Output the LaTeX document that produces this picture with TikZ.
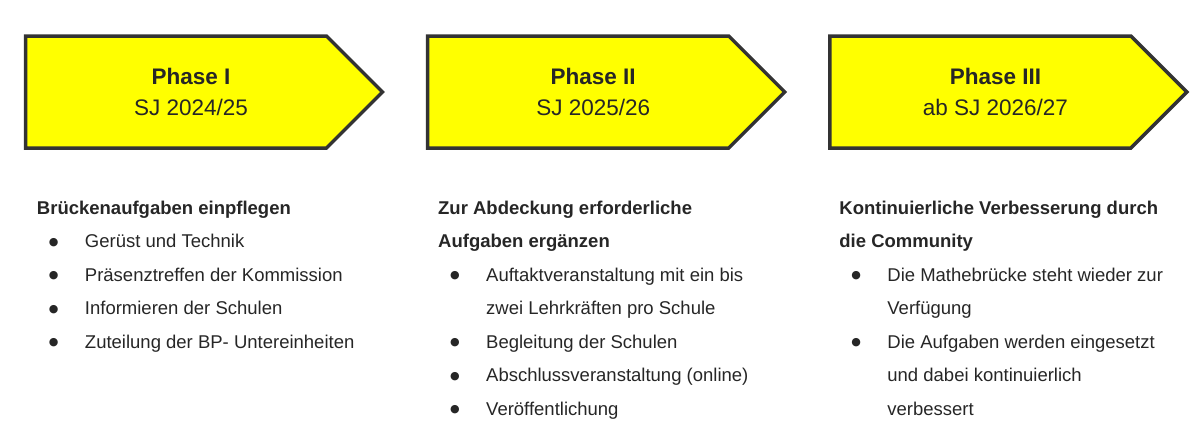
\documentclass[tikz,border=0pt]{standalone}
\usepackage{fontspec}
\setmainfont{Liberation Sans}
\newfontfamily\bulletfont{DejaVu Sans}
\usetikzlibrary{positioning,shapes.symbols}
\definecolor{phaseyellow}{HTML}{FFFF00}
\definecolor{phaseline}{HTML}{333333}
\definecolor{phasetext}{HTML}{262626}
\newcommand{\itm}{\hspace*{12pt}\raisebox{2.5pt}{\bulletfont\fontsize{11}{11}\selectfont ●}}

\begin{document}
\begin{tikzpicture}[x=1pt, y=1pt, node distance = 41pt,
	phase/.style={signal, signal to=east, signal pointer angle=90, draw=phaseline, line width=3.5pt, fill=phaseyellow, minimum width=357pt, minimum height=112pt, inner sep=0pt},
	phaselabel/.style={align=center, text=phasetext, font=\fontsize{22.5}{31}\selectfont, xshift=15pt},
	tasks/.style={inner sep=0pt, text=phasetext, font=\fontsize{18.5}{33.5}\selectfont}]
	\useasboundingbox (0,0) rectangle (1200,-440);
	
	\node[phase] (ph1) at (176,-92) {};
	\node[phase, right=of ph1] (ph2) {};
	\node[phase, right=of ph2] (ph3) {};
	
	\node[phaselabel] (lab1) at (ph1.center) {\textbf{Phase I}\\SJ 2024/25};
	\node[phaselabel] (lab2) at (ph2.center) {\textbf{Phase II}\\SJ 2025/26};
	\node[phaselabel] (lab3) at (ph3.center) {\textbf{Phase III}\\ab SJ 2026/27};
	
	\node[tasks, below=41pt of ph1.south west, anchor=north west, xshift=13pt] (t1) {\begin{tabular}{@{}p{48pt}@{}l@{}}
		\multicolumn{2}{@{}l@{}}{\textbf{Brückenaufgaben einpflegen}}\\
		\itm & Gerüst und Technik\\
		\itm & Präsenztreffen der Kommission\\
		\itm & Informieren der Schulen\\
		\itm & Zuteilung der BP- Untereinheiten
	\end{tabular}};
	
	\node[tasks, below=41pt of ph2.south west, anchor=north west, xshift=12pt] (t2) {\begin{tabular}{@{}p{48pt}@{}l@{}}
		\multicolumn{2}{@{}l@{}}{\textbf{Zur Abdeckung erforderliche}}\\
		\multicolumn{2}{@{}l@{}}{\textbf{Aufgaben ergänzen}}\\
		\itm & Auftaktveranstaltung mit ein bis\\
		     & zwei Lehrkräften pro Schule\\
		\itm & Begleitung der Schulen\\
		\itm & Abschlussveranstaltung (online)\\
		\itm & Veröffentlichung
	\end{tabular}};
	
	\node[tasks, below=41pt of ph3.south west, anchor=north west, xshift=11pt] (t3) {\begin{tabular}{@{}p{48pt}@{}l@{}}
		\multicolumn{2}{@{}l@{}}{\textbf{Kontinuierliche Verbesserung durch}}\\
		\multicolumn{2}{@{}l@{}}{\textbf{die Community}}\\
		\itm & Die Mathebrücke steht wieder zur\\
		     & Verfügung\\
		\itm & Die Aufgaben werden eingesetzt\\
		     & und dabei kontinuierlich\\
		     & verbessert
	\end{tabular}};
	
\end{tikzpicture}
\end{document}
